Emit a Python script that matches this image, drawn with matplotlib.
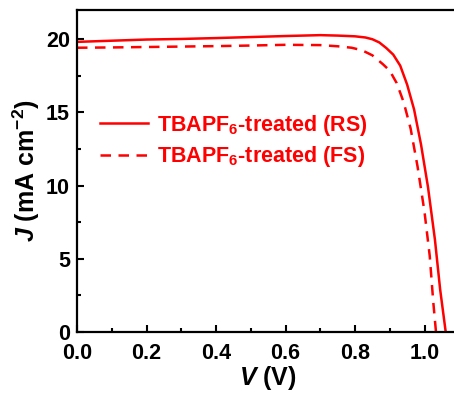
import matplotlib
matplotlib.use("Agg")
import matplotlib.pyplot as plt
from matplotlib.ticker import MultipleLocator
from matplotlib.transforms import ScaledTranslation

plt.rcParams['font.family'] = ['Liberation Sans', 'DejaVu Sans']
plt.rcParams['font.weight'] = 'bold'
plt.rcParams['mathtext.fontset'] = 'custom'
plt.rcParams['mathtext.rm'] = 'Liberation Sans:bold'
plt.rcParams['mathtext.bf'] = 'Liberation Sans:bold'
plt.rcParams['mathtext.it'] = 'Liberation Sans:italic:bold'

v_rs = [0, 0.1, 0.2, 0.3, 0.4, 0.5, 0.6, 0.7, 0.75, 0.8, 0.83, 0.85, 0.87, 0.89,
        0.91, 0.93, 0.95, 0.97, 0.99, 1.01, 1.03, 1.045, 1.061]
j_rs = [19.82, 19.9, 19.98, 20.02, 20.08, 20.15, 20.22, 20.28, 20.25, 20.2, 20.12,
        20.0, 19.78, 19.4, 18.95, 18.2, 16.9, 15.2, 12.8, 9.9, 6.3, 2.9, 0.0]

v_fs = [0, 0.1, 0.2, 0.3, 0.4, 0.5, 0.6, 0.7, 0.75, 0.79, 0.82, 0.85, 0.88, 0.9,
        0.92, 0.94, 0.96, 0.98, 1.0, 1.015, 1.025, 1.033]
j_fs = [19.42, 19.44, 19.47, 19.5, 19.53, 19.57, 19.62, 19.6, 19.52, 19.42, 19.25,
        18.9, 18.3, 17.85, 17.0, 15.7, 13.9, 11.3, 8.2, 5.2, 2.1, 0.0]

labels = ['TBAPF$_6$-treated (RS)', 'TBAPF$_6$-treated (FS)']

fig = plt.figure(figsize=(4.54, 3.99), dpi=100)
ax = fig.add_axes([0.1696, 0.168, 0.842, 0.807])

red = '#ff0000'
ax.plot(v_rs, j_rs, color=red, lw=1.8, label=labels[0])
ax.plot(v_fs, j_fs, color=red, lw=1.8, linestyle=(0, (4.2, 3)), label=labels[1])

ax.set_xlim(0, 1.1)
ax.set_ylim(0, 22)
ax.xaxis.set_minor_locator(MultipleLocator(0.1))
ax.yaxis.set_major_locator(MultipleLocator(5))
ax.yaxis.set_minor_locator(MultipleLocator(2.5))
ax.set_xticks([0, 0.2, 0.4, 0.6, 0.8, 1.0])
ax.set_xticklabels(['0.0', '0.2', '0.4', '0.6', '0.8', '1.0'])
ax.tick_params(which='both', direction='in', width=1.5, labelsize=15.5)
ax.tick_params(which='major', length=5)
ax.tick_params(which='minor', length=3)
ax.tick_params(axis='y', pad=5)
ax.tick_params(axis='x', pad=8)
for s in ax.spines.values():
    s.set_linewidth(1.6)

fig.canvas.draw()
for lab in ax.get_yticklabels():
    if lab.get_text() == '0':
        lab.set_verticalalignment('baseline')
        lab.set_transform(lab.get_transform() +
                          ScaledTranslation(0, -0.08, fig.dpi_scale_trans))

ax.set_xlabel('$\\mathit{V}$ (V)', fontsize=18, fontweight='bold', labelpad=0)
ax.set_ylabel('$\\mathit{J}$ (mA cm$^{-2}$)', fontsize=18, fontweight='bold', labelpad=3)

leg = ax.legend(loc='upper left', bbox_to_anchor=(0.06, 0.68), frameon=False,
                fontsize=15.5, handlelength=2.25, handletextpad=0.42, labelspacing=0.3,
                borderpad=0, borderaxespad=0, labelcolor=red)
for t in leg.get_texts():
    t.set_fontweight('bold')

fig.savefig('out.png', dpi=100)
